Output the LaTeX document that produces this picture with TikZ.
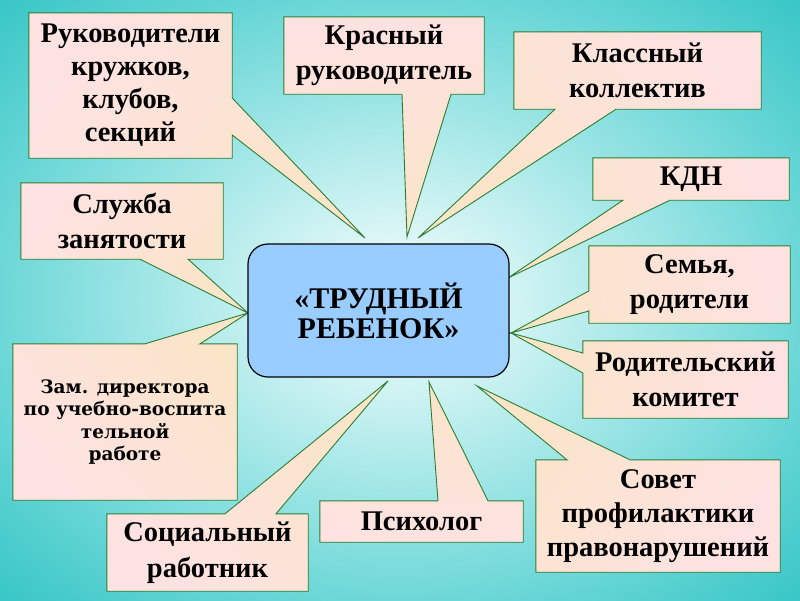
\documentclass[tikz,border=0pt]{standalone}
\usepackage{fontspec}
\setmainfont{Liberation Serif}
\newfontfamily\zamfont{DejaVu Serif}
\definecolor{bgcenter}{HTML}{F4FDFD}
\definecolor{bgsoft}{HTML}{D8F5F5}
\definecolor{bgmid}{HTML}{A0E6E6}
\definecolor{bgdeep}{HTML}{62D4D4}
\definecolor{bgedge}{HTML}{30C3C3}
\definecolor{hubblue}{HTML}{99CCFF}
\definecolor{bubblepeach}{HTML}{FAE5C8}
\definecolor{bubblepink}{HTML}{FDE2E2}
\definecolor{bubbleline}{HTML}{2E7D32}
\pgfdeclareradialshading{bgglow}{\pgfpoint{0bp}{0bp}}{color(0bp)=(bgcenter); color(6bp)=(bgsoft); color(16bp)=(bgmid); color(27bp)=(bgdeep); color(37bp)=(bgedge); color(75bp)=(bgedge)}
\pgfdeclarelayer{back}
\pgfdeclarelayer{shapes}
\pgfsetlayers{back,shapes,main}
\tikzset{
    %Define style for the texts in the callouts
    boxtext/.style={
           rectangle,
           inner sep=0pt,
           align=center,
           font=\fontsize{28.5}{35.5}\selectfont\bfseries,
           },
    %Define style for the central box
    hub/.style={
           rectangle,
           rounded corners=20pt,
           draw=black, line width=1.2pt,
           fill=hubblue,
           minimum width=261pt,
           minimum height=133pt,
           align=center,
           font=\fontsize{30}{30}\selectfont\bfseries,
           },
    % Define callout outline style, argument is the shading angle
    bubble/.style={
           draw=bubbleline, line width=0.9pt,
           top color=bubblepeach,
           bottom color=bubblepink,
           shading angle=#1,
           }
}
\begin{document}
\begin{tikzpicture}[x=1pt,y=-1pt]
\useasboundingbox (0,0) rectangle (800,600);
\begin{pgfonlayer}{back}
\shade[shading=bgglow] (0,0) rectangle (800,600);
\end{pgfonlayer}
\node[hub](c) at (378.5,310.5) {«ТРУДНЫЙ\\РЕБЕНОК»};
\node[boxtext, minimum width=203pt, minimum height=145pt,
      font=\fontsize{28.5}{33}\selectfont\bfseries](1) at (130.5,85.5) {Руководители\\кружков,\\клубов,\\секций};
\node[boxtext, minimum width=200pt, minimum height=77pt](2) at (384,55.5) {Красный\\руководитель};
\node[boxtext, minimum width=247pt, minimum height=77pt](3) at (637.5,70.5) {Классный\\коллектив};
\node[boxtext, minimum width=196pt, minimum height=42pt](4) at (691,179) {КДН};
\node[boxtext, minimum width=201pt, minimum height=77pt](5) at (689.5,284.5) {Семья,\\родители};
\node[boxtext, minimum width=205pt, minimum height=77pt](6) at (685.5,379.5) {Родительский\\комитет};
\node[boxtext, minimum width=244pt, minimum height=112pt,
      font=\fontsize{28.5}{34}\selectfont\bfseries](7) at (658,516) {Совет\\профилактики\\правонарушений};
\node[boxtext, minimum width=203pt, minimum height=41pt](8) at (421.5,521.5) {Психолог};
\node[boxtext, minimum width=201pt, minimum height=77pt](9) at (207.5,552.5) {Социальный\\работник};
\node[boxtext, minimum width=224pt, minimum height=156pt,
      font=\zamfont\fontsize{18.5}{22.5}\selectfont\bfseries](10) at (125,422) {Зам. директора\\по учебно-воспита\\тельной\\работе};
\node[boxtext, minimum width=202pt, minimum height=76pt](11) at (122,221) {Служба\\занятости};
% tips of the callouts
\coordinate (t1) at (365,238);
\coordinate (t2) at (407,237);
\coordinate (t3) at (418,238);
\coordinate (t4) at (508,278);
\coordinate (t5) at (511,333);
\coordinate (t7) at (477,386);
\coordinate (t8) at (429,382);
\coordinate (t9) at (388,381);
\coordinate (t10) at (248,313);
\begin{pgfonlayer}{shapes}
\path[bubble=-123] (1.north west) -- (1.north east) -- (1.north east |- 0,98) -- (t1) -- (1.north east |- 0,135) -- (1.south east) -- (1.south west) -- cycle;
\path[bubble=-173] (2.north west) -- (2.north east) -- (2.south east) -- (2.south west -| 451,0) -- (t2) -- (2.south west -| 402,0) -- (2.south west) -- cycle;
\path[bubble=127] (3.north west) -- (3.north east) -- (3.south east) -- (3.south west -| 616,0) -- (t3) -- (3.south west -| 555,0) -- (3.south west) -- cycle;
\path[bubble=119] (4.north west) -- (4.north east) -- (4.south east) -- (4.south west -| 670,0) -- (t4) -- (4.south west -| 623,0) -- (4.south west) -- cycle;
\path[bubble=105] (5.north west) -- (5.north east) -- (5.south east) -- (5.south west) -- (5.south west |- 0,311) -- (t5) -- (5.south west |- 0,291) -- cycle;
\path[bubble=75] (6.north west) -- (6.north east) -- (6.south east) -- (6.south west) -- (6.south west |- 0,373) -- (t5) -- (6.south west |- 0,353) -- cycle;
\path[bubble=54] (7.north west) -- (7.north west -| 567,0) -- (t7) -- (7.north west -| 630,0) -- (7.north east) -- (7.south east) -- (7.south west) -- cycle;
\path[bubble=-3] (8.north west) -- (8.north west -| 438,0) -- (t8) -- (8.north west -| 488,0) -- (8.north east) -- (8.south east) -- (8.south west) -- cycle;
\path[bubble=-46] (9.north west) -- (9.north west -| 225,0) -- (t9) -- (9.north west -| 276,0) -- (9.north east) -- (9.south east) -- (9.south west) -- cycle;
\path[bubble=-48] (10.north west) -- (10.north west -| 145,0) -- (t10) -- (10.north west -| 200,0) -- (10.north east) -- (10.south east) -- (10.south west) -- cycle;
\path[bubble=-126] (11.north west) -- (11.north east) -- (11.south east) -- (11.south west -| 188,0) -- (t10) -- (11.south west -| 140,0) -- (11.south west) -- cycle;
\end{pgfonlayer}
\end{tikzpicture}
\end{document}
